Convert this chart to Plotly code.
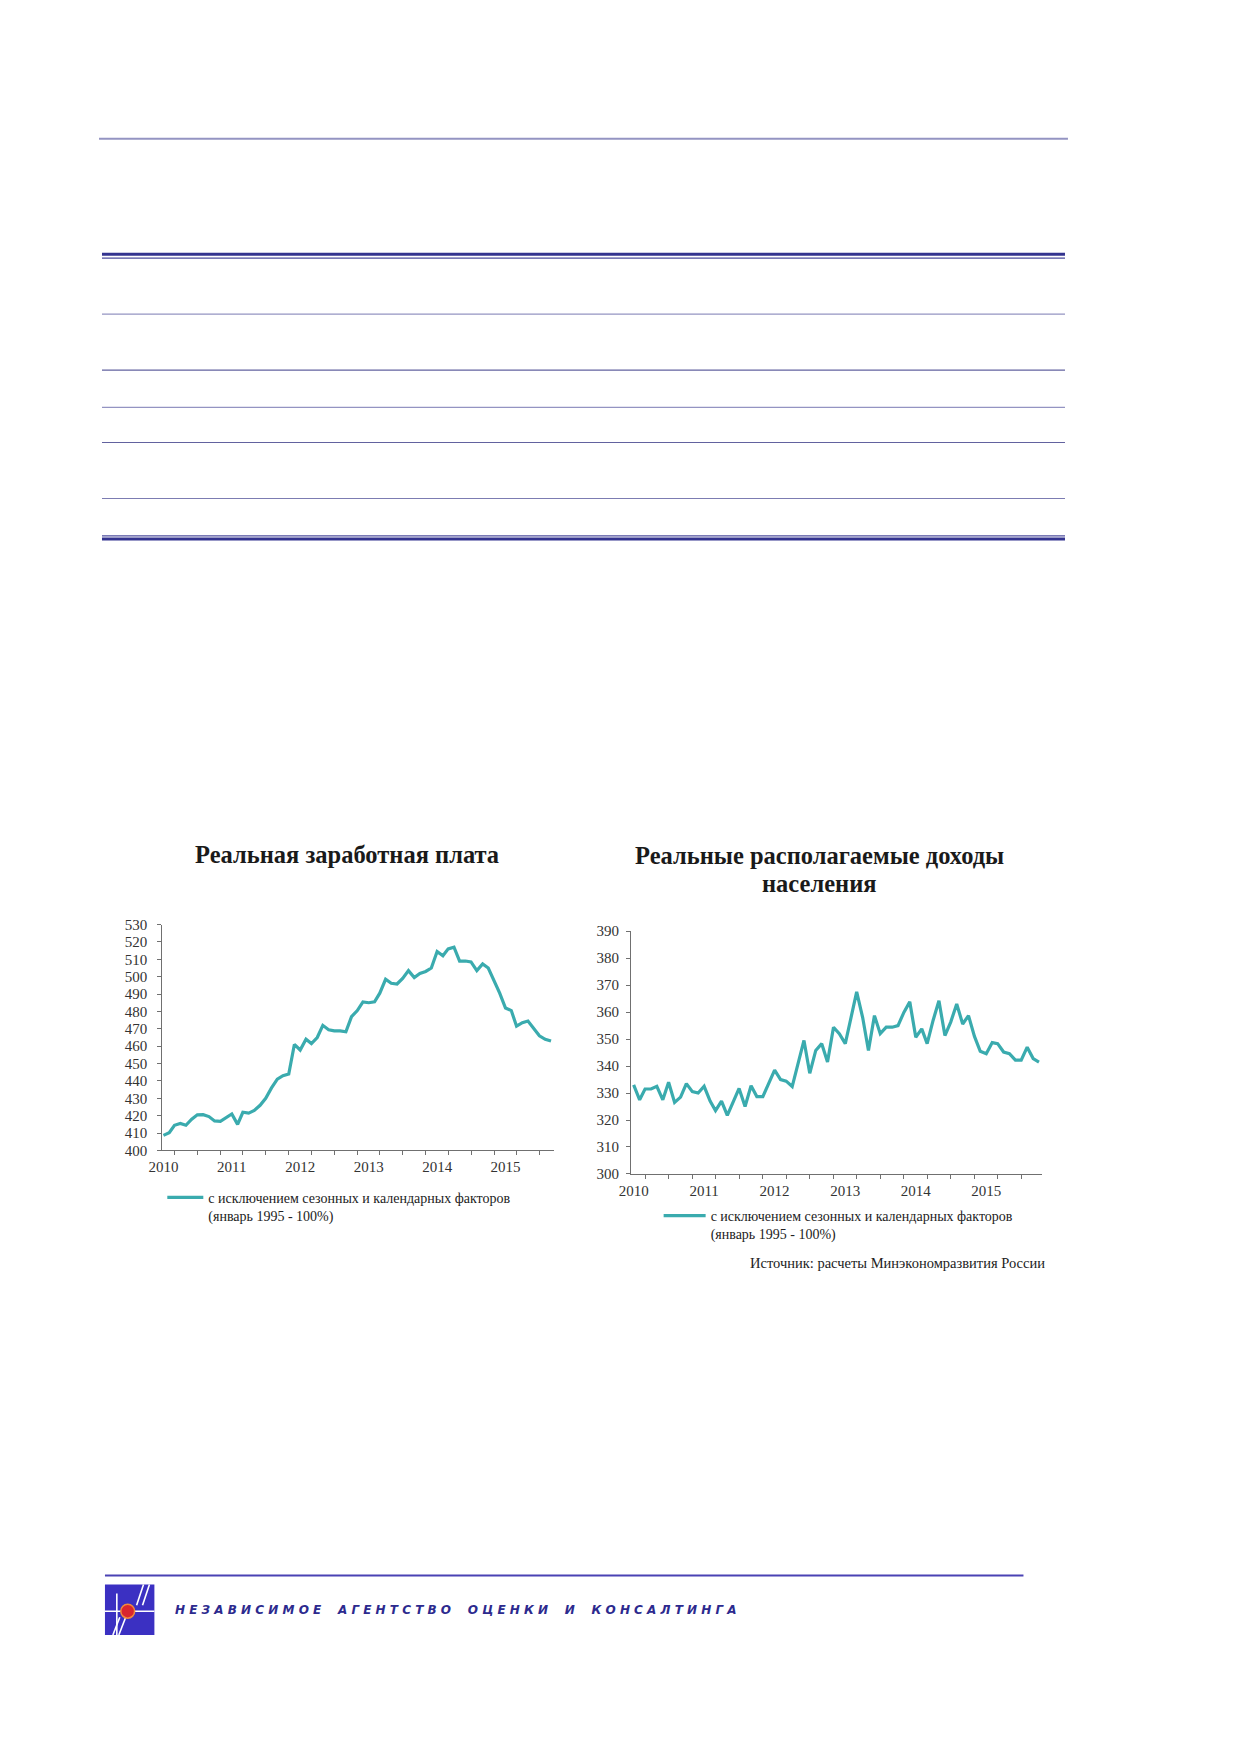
import pandas as pd
import plotly.graph_objects as go

# page size in px (scanned report page)
W, H = 1239, 1752


def fx(px):
    return px / W


def fy(py):
    return 1 - py / H


# ---- data (Jan 2010 onwards, monthly) ----
real_wage = [408.7, 410.2, 414.5, 415.5, 414.5, 418.0, 420.5, 420.6, 419.5, 417.0,
             416.8, 419.0, 421.0, 415.0, 422.0, 421.5, 423.0, 426.0, 430.0, 436.0,
             441.0, 443.0, 444.0, 461.0, 457.8, 464.0, 461.5, 465.0, 472.0, 469.5,
             468.8, 468.8, 468.3, 477.0, 480.5, 485.5, 485.0, 485.5, 490.5, 498.5,
             496.2, 495.8, 499.0, 503.5, 499.5, 501.9, 503.0, 505.0, 514.5, 512.0,
             516.0, 517.0, 509.0, 509.0, 508.5, 503.5, 507.3, 505.0, 498.0, 490.5,
             482.0, 480.5, 471.5, 473.5, 474.5, 470.0, 466.0, 464.0, 463.0]

real_income = [333.0, 327.5, 331.5, 331.5, 332.5, 327.5, 334.0, 326.5, 328.5, 333.5,
               330.5, 330.0, 332.5, 327.0, 323.5, 327.0, 321.7, 326.5, 331.7, 325.0,
               332.7, 328.7, 328.7, 333.5, 338.5, 335.0, 334.4, 332.4, 341.0, 349.5,
               337.3, 345.8, 348.3, 341.5, 354.4, 352.0, 348.3, 358.0, 367.5, 358.0,
               345.8, 358.7, 352.0, 354.4, 354.4, 355.0, 360.0, 363.8, 350.7, 353.8,
               348.3, 357.0, 364.2, 351.3, 356.3, 363.0, 355.6, 358.7, 351.0, 345.5,
               344.6, 348.7, 348.3, 345.2, 344.6, 342.2, 342.2, 347.0, 342.8, 341.5]

months_wage = pd.date_range("2010-01-01", periods=len(real_wage), freq="MS")
months_income = pd.date_range("2010-01-01", periods=len(real_income), freq="MS")

title_wage = "Реальная заработная плата"
title_income = ["Реальные располагаемые доходы", "населения"]
legend_label = "с исключением сезонных и календарных факторов<br>(январь 1995 - 100%)"
source_text = "Источник: расчеты Минэкономразвития России"
agency_name = "НЕЗАВИСИМОЕ АГЕНТСТВО ОЦЕНКИ И КОНСАЛТИНГА"

# ---- styles ----
SERIF = "Liberation Serif, Times New Roman, serif"
TEAL = "#3aabae"
AXIS = "#707070"
RULE_DARK = "#33338f"
RULE_LIGHT = "#9494c2"

fig = go.Figure()

fig.add_trace(go.Scatter(x=months_wage, y=real_wage, mode="lines",
                         line=dict(color=TEAL, width=3.2),
                         name=legend_label, xaxis="x", yaxis="y",
                         legend="legend", showlegend=True))
fig.add_trace(go.Scatter(x=months_income, y=real_income, mode="lines",
                         line=dict(color=TEAL, width=3.2),
                         name=legend_label, xaxis="x2", yaxis="y2",
                         legend="legend2", showlegend=True))

tickfont = dict(family=SERIF, size=15, color="#333333")


def xaxis_style(dom, anchor, rng):
    return dict(domain=dom, anchor=anchor, type="date", range=rng,
                tick0="2010-01-01", dtick="M12", tickformat="%Y",
                ticks="", showline=True, linecolor=AXIS, linewidth=1,
                showgrid=False, zeroline=False, tickfont=tickfont,
                ticklabelstandoff=3,
                minor=dict(tick0="2010-03-01", dtick="M4", ticks="outside",
                           ticklen=4, tickcolor=AXIS, showgrid=False))


def yaxis_style(dom, anchor, rng, standoff):
    return dict(domain=dom, anchor=anchor, range=rng, dtick=10,
                ticks="outside", ticklen=4, tickcolor=AXIS,
                showline=True, linecolor=AXIS, linewidth=1,
                showgrid=False, zeroline=False, tickfont=tickfont,
                ticklabelstandoff=standoff)


legend_font = dict(family=SERIF, size=14, color="#222222")

fig.update_layout(
    width=W, height=H,
    margin=dict(l=0, r=0, t=0, b=0),
    paper_bgcolor="white", plot_bgcolor="white",
    showlegend=True,
    xaxis=xaxis_style([fx(150), fx(546)], "y", ["2009-12-26", "2015-09-16"]),
    yaxis=yaxis_style([fy(1153), fy(925)], "x", [400, 530], 7),
    xaxis2=xaxis_style([fx(624), fx(1040)], "y2", ["2009-12-18", "2015-10-18"]),
    yaxis2=yaxis_style([fy(1176.7), fy(931.7)], "x2", [300, 390], 4),
    legend=dict(x=fx(150), y=fy(1184.5), xanchor="left", yanchor="top",
                bgcolor="rgba(0,0,0,0)", valign="top", itemwidth=36,
                font=legend_font),
    legend2=dict(x=fx(652), y=fy(1203), xanchor="left", yanchor="top",
                 bgcolor="rgba(0,0,0,0)", valign="top", itemwidth=42,
                 font=legend_font),
)

# chart titles and source
title_font = dict(family=SERIF, size=24.5, color="#1a1a1a")
fig.add_annotation(text="<b>" + title_wage + "</b>", x=fx(337), y=fy(854),
                   xanchor="center", yanchor="middle",
                   xref="paper", yref="paper", showarrow=False, font=title_font)
for k, line_text in enumerate(title_income):
    fig.add_annotation(text="<b>" + line_text + "</b>", x=fx(815),
                       y=fy(855 + 28.5 * k), xanchor="center", yanchor="middle",
                       xref="paper", yref="paper", showarrow=False,
                       font=title_font)
fig.add_annotation(text=source_text, x=fx(1045), y=fy(1267),
                   xanchor="right", yanchor="middle",
                   xref="paper", yref="paper", showarrow=False,
                   font=dict(family=SERIF, size=14.5, color="#222222"))

# ---- page decoration: table rules at the top ----
shapes = []


def hrule(y, x0, x1, width, color):
    shapes.append(dict(type="line", xref="paper", yref="paper",
                       x0=fx(x0), x1=fx(x1), y0=fy(y), y1=fy(y),
                       line=dict(color=color, width=width)))


hrule(132, 86, 1066, 2, RULE_LIGHT)
hrule(248.5, 89, 1063, 3, RULE_DARK)
hrule(252.5, 89, 1063, 1.3, "#4c4c9c")
hrule(309, 89, 1063, 1.2, RULE_LIGHT)
hrule(365.5, 89, 1063, 1.2, "#62629f")
hrule(403, 89, 1063, 1.2, RULE_LIGHT)
hrule(438.5, 89, 1063, 1.2, "#62629f")
hrule(495, 89, 1063, 1.2, "#7c7cb2")
hrule(532.7, 89, 1063, 1.3, "#4c4c9c")
hrule(536, 89, 1063, 3, RULE_DARK)

# footer rule
hrule(1582, 92, 1021, 2, "#4a42b4")

# logo block
shapes.append(dict(type="rect", xref="paper", yref="paper",
                   x0=fx(92), x1=fx(142), y0=fy(1642), y1=fy(1591),
                   fillcolor="#3b30c2", line=dict(width=0)))
for (xa, ya, xb, yb) in [(92, 1618, 142, 1618), (104, 1600, 104, 1642),
                         (124, 1612, 131, 1591), (130, 1612, 137, 1591),
                         (100, 1642, 107, 1624), (106, 1642, 113, 1624)]:
    shapes.append(dict(type="line", xref="paper", yref="paper",
                       x0=fx(xa), x1=fx(xb), y0=fy(ya), y1=fy(yb),
                       line=dict(color="white", width=1.6)))
shapes.append(dict(type="circle", xref="paper", yref="paper",
                   x0=fx(108), x1=fx(122), y0=fy(1625), y1=fy(1611),
                   fillcolor="#d8262e", line=dict(color="#f08a3c", width=1.5)))

fig.update_layout(shapes=shapes)

# agency name, letter-spaced bold italic
spaced = ("\u00a0" * 4).join("\u00a0".join(word) for word in agency_name.split())
fig.add_annotation(text="<b><i>" + spaced + "</i></b>", x=fx(161), y=fy(1617),
                   xanchor="left", yanchor="middle",
                   xref="paper", yref="paper", showarrow=False,
                   font=dict(family="DejaVu Sans", size=12, color="#2c2a8e"))

# page body margin would push the figure off the 1239x1752 window
fig.write_html("out.html", config={"displayModeBar": False},
               post_script="document.body.style.margin = '0';")
